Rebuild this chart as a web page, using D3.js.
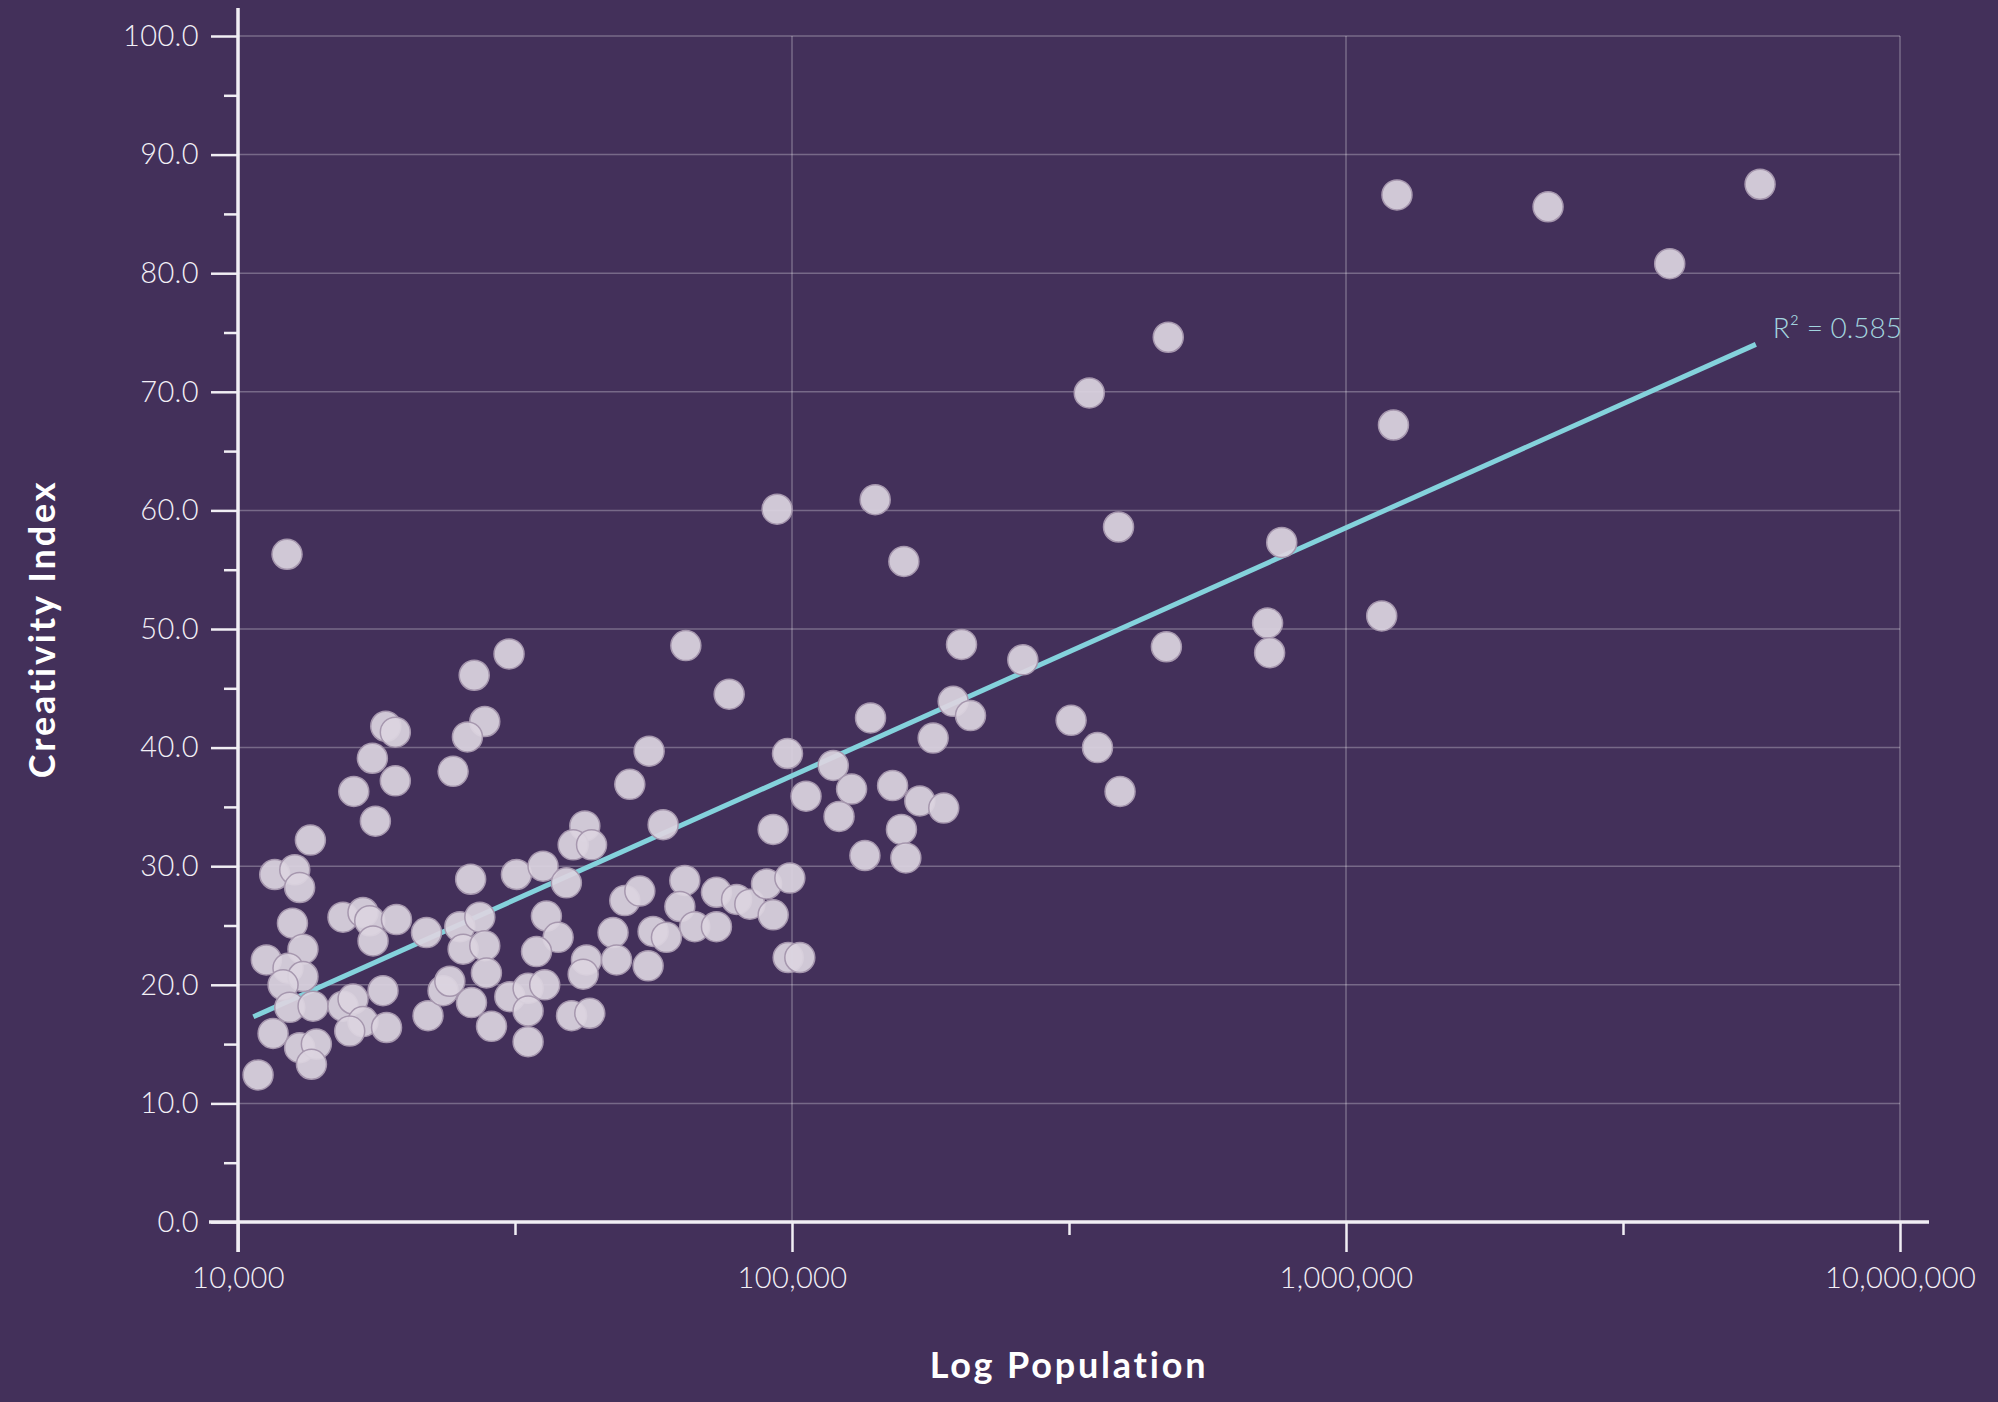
<!DOCTYPE html>
<html>
<head>
<meta charset="utf-8">
<script src="https://cdnjs.cloudflare.com/ajax/libs/d3/7.8.5/d3.min.js"></script>
<style>
  html, body { margin: 0; padding: 0; background: #43305a; }
  #chart text { font-family: Lato, "Noto Sans", sans-serif; }
</style>
</head>
<body>
<div id="chart"></div>
<script>
// population (x) and creativity index (y)
const population = [
  1236000, 2316000, 5590000, 3840000, 477700, 344000, 1218000, 388500, 765600, 1160000,
  721900, 728000, 474000, 319000, 356000, 391000, 261000, 202300, 195400, 210000,
  179800, 138600, 151900, 170100, 187900, 157600, 160500, 135400, 141300, 159200,
  93990, 12260, 64330, 77020, 30850, 26690, 27890, 25950, 24450, 18480,
  19230, 17480, 19230, 16180, 17700, 13510, 55220, 50960, 58530, 42270,
  40270, 43470, 98150, 118700, 128100, 106000, 121600, 92470, 11650, 12660,
  12920, 26300, 31810, 35530, 39150, 49910, 12540, 11250, 13100, 12310,
  13100, 12060, 15470, 16810, 17290, 19320, 17530, 21890, 25140, 27320,
  25490, 27890, 28080, 36030, 37830, 34580, 47530, 42560, 48220, 41980,
  12400, 13660, 15470, 16130, 18270, 16810, 18540, 15910, 11570, 12920,
  13850, 13570, 10870, 22030, 23450, 24120, 26390, 28680, 30950, 33390,
  35780, 33390, 33390, 40000, 43150, 53130, 64050, 62750, 73050, 79420,
  83920, 89950, 92470, 99110, 66750, 73050, 56140, 59340, 54990, 98420,
  103300
];
const creativity = [
  86.6, 85.6, 87.5, 80.8, 74.6, 69.9, 67.2, 58.6, 57.3, 51.1,
  50.5, 48.0, 48.5, 42.3, 40.0, 36.3, 47.4, 48.7, 43.9, 42.7,
  40.8, 42.5, 36.8, 35.5, 34.9, 33.1, 30.7, 30.9, 60.9, 55.7,
  60.1, 56.3, 48.6, 44.5, 47.9, 46.1, 42.2, 40.9, 38.0, 41.8,
  41.3, 39.1, 37.2, 36.3, 33.8, 32.2, 39.7, 36.9, 33.5, 33.4,
  31.8, 31.8, 39.5, 38.5, 36.5, 35.9, 34.2, 33.1, 29.3, 29.7,
  28.2, 28.9, 29.3, 30.0, 28.6, 27.1, 25.2, 22.1, 23.0, 21.4,
  20.7, 20.0, 25.7, 26.1, 25.4, 25.5, 23.7, 24.4, 24.9, 25.7,
  23.0, 23.3, 21.0, 25.8, 24.0, 22.8, 24.4, 22.1, 22.1, 20.9,
  18.1, 18.2, 18.2, 18.8, 19.5, 16.9, 16.4, 16.1, 15.9, 14.7,
  15.0, 13.3, 12.4, 17.4, 19.5, 20.3, 18.5, 16.5, 19.0, 19.7,
  20.0, 17.8, 15.2, 17.4, 17.6, 27.9, 28.8, 26.6, 27.8, 27.2,
  26.8, 28.5, 25.9, 29.0, 24.9, 24.9, 24.5, 24.0, 21.6, 22.3,
  22.3
];

// fitted line end points and its label
const trendPop = [10660, 5493000];
const trendValue = [17.3, 74.0];
const trendLabel = "R\u00B2 = 0.585";

// ticks
const xMajorTicks = [10000, 100000, 1000000, 10000000];
const xMinorTicks = [31623, 316228, 3162278];
const yMajorTicks = [0, 10, 20, 30, 40, 50, 60, 70, 80, 90, 100];
const yMinorTicks = [5, 15, 25, 35, 45, 55, 65, 75, 85, 95];

const xTitle = "Log Population";
const yTitle = "Creativity Index";

const widthValue = 1998;
const heightValue = 1402;

const svg = d3.select("#chart").append("svg")
  .attr("width", widthValue)
  .attr("height", heightValue);

svg.append("rect")
  .attr("width", widthValue)
  .attr("height", heightValue)
  .attr("fill", "#43305a");

const x = d3.scaleLog().domain([10000, 10000000]).range([238, 1900]);
const y = d3.scaleLinear().domain([0, 100]).range([1222, 36]);

const gridColor = "rgba(255,255,255,0.28)";
const axisColor = "#f1eef4";
const labelColor = "#f2eff6";

// grid
svg.append("g").selectAll("line")
  .data(yMajorTicks.filter((d) => d > 0))
  .enter().append("line")
  .attr("x1", x.range()[0]).attr("x2", x.range()[1])
  .attr("y1", (d) => y(d)).attr("y2", (d) => y(d))
  .attr("stroke", gridColor).attr("stroke-width", 1.5);

svg.append("g").selectAll("line")
  .data(xMajorTicks.slice(1))
  .enter().append("line")
  .attr("x1", (d) => x(d)).attr("x2", (d) => x(d))
  .attr("y1", y(0)).attr("y2", y(100))
  .attr("stroke", gridColor).attr("stroke-width", 1.5);

// y axis
svg.append("g")
  .attr("transform", `translate(${x.range()[0]},0)`)
  .call(d3.axisLeft(y).tickValues(yMajorTicks).tickSize(27).tickPadding(12)
    .tickFormat(d3.format(".1f")));
svg.append("g")
  .attr("transform", `translate(${x.range()[0]},0)`)
  .call(d3.axisLeft(y).tickValues(yMinorTicks).tickSize(14).tickFormat(""));

// x axis
svg.append("g")
  .attr("transform", `translate(0,${y(0)})`)
  .call(d3.axisBottom(x).tickValues(xMajorTicks).tickSize(30).tickPadding(15)
    .tickFormat(d3.format(",")));
svg.append("g")
  .attr("transform", `translate(0,${y(0)})`)
  .call(d3.axisBottom(x).tickValues(xMinorTicks).tickSize(13).tickFormat(""));

svg.selectAll(".domain").remove();
svg.selectAll(".tick line").attr("stroke", axisColor).attr("stroke-width", 2.5);
svg.selectAll(".tick text")
  .attr("fill", labelColor)
  .style("font-size", "29px")
  .style("font-weight", 300)
  .style("letter-spacing", "0.4px");

// axis lines run a tick's length past the corner
svg.append("line")
  .attr("x1", x.range()[0]).attr("x2", x.range()[0])
  .attr("y1", y(100) - 28).attr("y2", y(0) + 30)
  .attr("stroke", axisColor).attr("stroke-width", 3.5);
svg.append("line")
  .attr("x1", x.range()[0] - 29).attr("x2", x.range()[1] + 29)
  .attr("y1", y(0)).attr("y2", y(0))
  .attr("stroke", axisColor).attr("stroke-width", 3.5);

// trend line
svg.append("line")
  .attr("x1", x(trendPop[0])).attr("y1", y(trendValue[0]))
  .attr("x2", x(trendPop[1])).attr("y2", y(trendValue[1]))
  .attr("stroke", "#84d2dc")
  .attr("stroke-width", 5);

svg.append("text")
  .attr("x", x.range()[1] + 2)
  .attr("y", y(trendValue[1]) - 13)
  .attr("text-anchor", "end")
  .attr("dominant-baseline", "middle")
  .attr("fill", "#a2d4df")
  .style("font-size", "28px")
  .style("font-weight", 300)
  .text(trendLabel);

// dots
const points = population.map((p, i) => ({ p: p, v: creativity[i] }));
svg.append("g").selectAll("circle")
  .data(points)
  .enter().append("circle")
  .attr("cx", (d) => x(d.p))
  .attr("cy", (d) => y(d.v))
  .attr("r", 15)
  .attr("fill", "#dcd4e0")
  .attr("fill-opacity", 0.93)
  .attr("stroke", "#a697ae")
  .attr("stroke-width", 1.5);

// titles
svg.append("text")
  .attr("x", (x.range()[0] + x.range()[1]) / 2)
  .attr("y", 1369)
  .attr("text-anchor", "middle")
  .attr("dominant-baseline", "middle")
  .attr("fill", "#ffffff")
  .style("font-size", "36px")
  .style("font-weight", "bold")
  .style("letter-spacing", "2.8px")
  .text(xTitle);

svg.append("text")
  .attr("transform", `translate(46,${(y(0) + y(100)) / 2}) rotate(-90)`)
  .attr("text-anchor", "middle")
  .attr("dominant-baseline", "middle")
  .attr("fill", "#ffffff")
  .style("font-size", "36px")
  .style("font-weight", "bold")
  .style("letter-spacing", "2.8px")
  .text(yTitle);
</script>
</body>
</html>
